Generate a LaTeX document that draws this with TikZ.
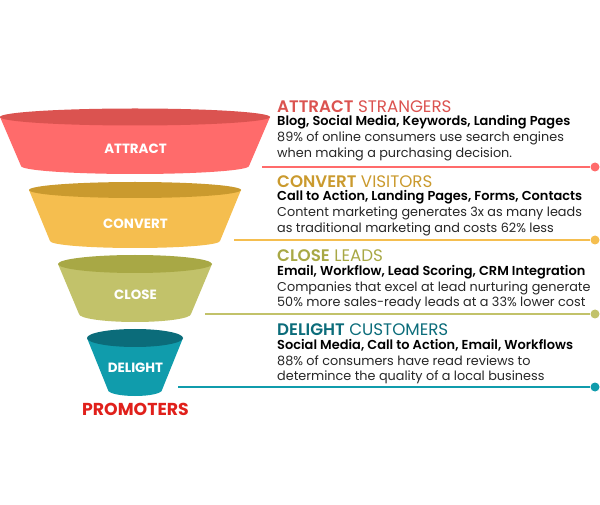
\documentclass[tikz,border=0pt]{standalone}
\usepackage{fontspec}
\setmainfont{Poppins}[BoldFont=* SemiBold]
\newfontfamily\heavyfont{Poppins}[UprightFont=* Bold]
\usetikzlibrary{positioning}
\definecolor{attractbody}{HTML}{FF6B6B}
\definecolor{attracttop}{HTML}{DB5350}
\definecolor{convertbody}{HTML}{F5BE4F}
\definecolor{converttop}{HTML}{CA9A2E}
\definecolor{closebody}{HTML}{C2C26A}
\definecolor{closetop}{HTML}{A8A845}
\definecolor{delightbody}{HTML}{109CAC}
\definecolor{delighttop}{HTML}{0B6C7A}
\definecolor{promoterred}{HTML}{E0201B}
\tikzset{
    funnellabel/.style={
    font=\fontsize{13.4}{16}\heavyfont,text=white,inner sep=0pt
    },
    head/.style={
    anchor=west,inner sep=0pt,font=\fontsize{16.7}{19}\selectfont
    },
    keywords/.style={
    anchor=west,inner sep=0pt,font=\fontsize{12.95}{15}\selectfont\bfseries,text=black
    },
    fact/.style={
    anchor=west,inner sep=0pt,font=\fontsize{12.8}{15}\selectfont,text=black!85
    },
    enddot/.style={
    circle,inner sep=0pt,minimum size=9pt
    },
}
\begin{document}
\begin{tikzpicture}[x=1pt,y=1pt]
   \useasboundingbox (0,0) rectangle (600,504);
   % funnel parts, widest first
   \foreach \n/\topw/\topy/\topr/\botw/\boty/\botr/\linex/\liney in {
     attract/135/387/8.5/114/338/8/262/337,
     convert/106/314/8/85/263/7/234/264,
     close/77/240/9/56/190/8/205/190,
     delight/48/166/9/27/114/6/178/117}{
     \fill[\n body] (135-\topw,\topy) -- (135-\botw,\boty)
       arc[start angle=180,end angle=360,x radius=\botw,y radius=\botr]
       -- (135+\topw,\topy) -- cycle;
     \fill[\n top] (135,\topy) ellipse[x radius=\topw,y radius=\topr];
     \coordinate (\n start) at (\linex,\liney);
     \node[enddot,fill=\n body] (\n dot) at (595,\liney) {};
     \draw[\n body,line width=2pt] (\n start) -- (\n dot);
   }
   \node[funnellabel] (attractlabel) at (135.5,355) {ATTRACT};
   \node[funnellabel] (convertlabel) at (135.5,280) {CONVERT};
   \node[funnellabel] (closelabel) at (135.5,209) {CLOSE};
   \node[funnellabel] (delightlabel) at (135.5,136) {DELIGHT};
   \node[font=\fontsize{17.3}{20}\heavyfont,text=promoterred,inner sep=0pt] (promoters) at (135.5,95) {PROMOTERS};

   \node[head,text=attracttop] (attracthead) at (277,397) {\textbf{ATTRACT} STRANGERS};
   \node[keywords] (attractkeys) at (277,381.5) {Blog, Social Media, Keywords, Landing Pages};
   \node[fact] (attractone) at (277,366) {89\% of online consumers use search engines};
   \node[fact] (attracttwo) at (277,350) {when making a purchasing decision.};

   \node[head,text=converttop] (converthead) at (277,322) {\textbf{CONVERT} VISITORS};
   \node[keywords] (convertkeys) at (277,306.5) {Call to Action, Landing Pages, Forms, Contacts};
   \node[fact] (convertone) at (277,291) {Content marketing generates 3x as many leads};
   \node[fact] (converttwo) at (277,275) {as traditional marketing and costs 62\% less};

   \node[head,text=closetop] (closehead) at (277,248) {\textbf{CLOSE} LEADS};
   \node[keywords] (closekeys) at (277,232) {Email, Workflow, Lead Scoring, CRM Integration};
   \node[fact] (closeone) at (277,216) {Companies that excel at lead nurturing generate};
   \node[fact] (closetwo) at (277,201) {50\% more sales-ready leads at a 33\% lower cost};

   \node[head,text=delighttop] (delighthead) at (277,174) {\textbf{DELIGHT} CUSTOMERS};
   \node[keywords] (delightkeys) at (277,158.5) {Social Media, Call to Action, Email, Workflows};
   \node[fact] (delightone) at (277,143) {88\% of consumers have read reviews to};
   \node[fact] (delighttwo) at (277,127) {determince the quality of a local business};
\end{tikzpicture}
\end{document}
